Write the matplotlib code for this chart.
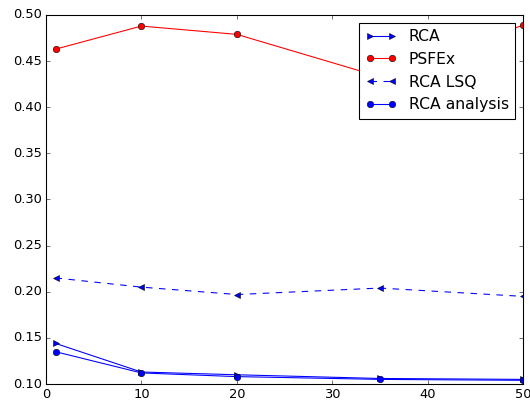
import matplotlib
matplotlib.use("Agg")
import matplotlib.pyplot as plt

plt.style.use('classic')

x = [1, 10, 20, 35, 50]
rca = [0.144, 0.113, 0.110, 0.106, 0.105]
psfex = [0.463, 0.488, 0.479, 0.433, 0.489]
rca_lsq = [0.215, 0.205, 0.197, 0.204, 0.195]
rca_analysis = [0.135, 0.112, 0.108, 0.105, 0.104]

DPI = 78
fig = plt.figure(figsize=(530/DPI, 400/DPI), dpi=DPI, facecolor='white')
ax = fig.add_axes([46/530, 16/400, 477/530, 369/400])
ax.plot(x, rca, '>-', color='b', label='RCA')
ax.plot(x, psfex, 'o-', color='r', label='PSFEx')
ax.plot(x, rca_lsq, '<--', color='b', label='RCA LSQ')
ax.plot(x, rca_analysis, 'o-', color='b', label='RCA analysis')
ax.set_xlim(0, 50)
ax.set_ylim(0.10, 0.50)
ax.legend(loc='upper right')
fig.savefig('out.png', dpi=DPI, facecolor='white')
